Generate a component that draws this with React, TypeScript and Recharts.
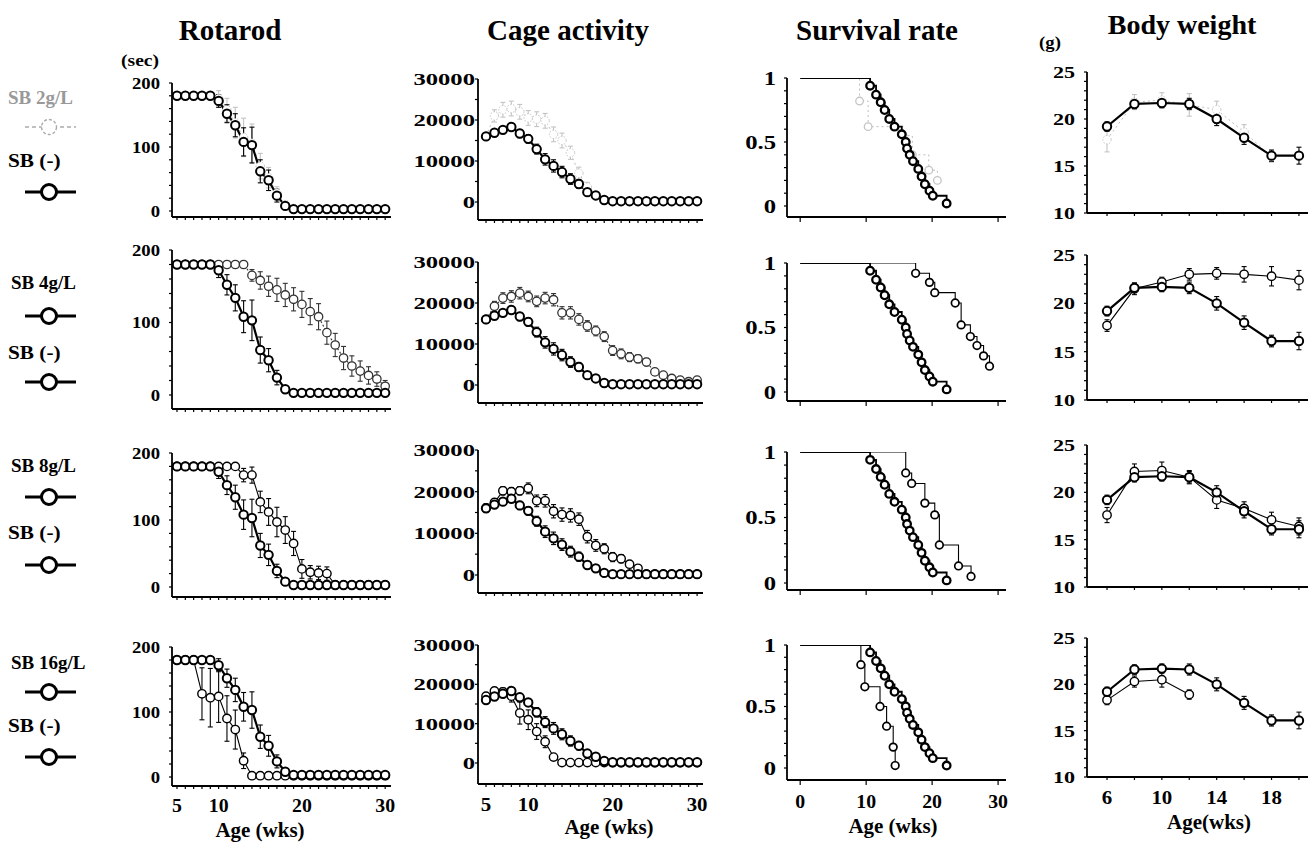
import React from 'react';
import { LineChart, Line, XAxis, YAxis, ErrorBar } from 'recharts';

// ---------------- data ----------------
const weeks = [5, 6, 7, 8, 9, 10, 11, 12, 13, 14, 15, 16, 17, 18, 19, 20, 21, 22, 23, 24, 25, 26, 27, 28, 29, 30];

// Rotarod (sec)
const rotarodCtrl = [180, 180, 180, 180, 180, 172, 152, 134, 108, 103, 62, 48, 24, 8, 3, 3, 3, 3, 3, 3, 3, 3, 3, 3, 3, 3];
const rotarodCtrlErr = [0, 0, 0, 0, 0, 10, 14, 18, 22, 28, 18, 16, 10, 5, 0, 0, 0, 0, 0, 0, 0, 0, 0, 0, 0, 0];
const rotarodSB2 = [180, 180, 180, 180, 180, 176, 158, 138, 115, 106, 70, 52, 28, 10, 4, 3, 3, 3, 3, 3, 3, 3, 3, 3, 3, 3];
const rotarodSB2Err = [0, 0, 0, 0, 0, 12, 18, 24, 30, 30, 20, 16, 10, 5, 0, 0, 0, 0, 0, 0, 0, 0, 0, 0, 0, 0];
const rotarodSB4 = [180, 180, 180, 180, 180, 180, 180, 180, 180, 165, 158, 150, 145, 138, 132, 125, 115, 108, 86, 69, 51, 40, 33, 27, 22, 12];
const rotarodSB4Err = [0, 0, 0, 0, 0, 0, 0, 0, 0, 8, 12, 14, 16, 16, 16, 18, 18, 18, 16, 16, 16, 14, 14, 12, 10, 8];
const rotarodSB8 = [180, 180, 180, 180, 180, 180, 180, 180, 167, 167, 127, 112, 97, 85, 65, 27, 22, 21, 20, 3, 3, 3, 3, 3, 3, 3];
const rotarodSB8Err = [0, 0, 0, 0, 0, 0, 0, 0, 10, 12, 16, 20, 22, 20, 18, 14, 10, 10, 10, 0, 0, 0, 0, 0, 0, 0];
const rotarodSB16 = [180, 180, 180, 128, 122, 124, 90, 73, 25, 2, 2, 2, 2, 2, 2, 2, 2, 2, 2, 2, 2, 2, 2, 2, 2, 2];
const rotarodSB16Err = [0, 0, 0, 40, 45, 40, 35, 30, 12, 0, 0, 0, 0, 0, 0, 0, 0, 0, 0, 0, 0, 0, 0, 0, 0, 0];

// Cage activity (counts)
const cageCtrl = [16000, 16900, 17600, 18300, 16700, 15400, 12900, 10400, 8800, 7300, 5600, 4400, 2400, 1600, 500, 200, 200, 200, 200, 200, 200, 200, 200, 200, 200, 200];
const cageCtrlErr = [400, 600, 700, 900, 1000, 1000, 1200, 1400, 1500, 1400, 1300, 1100, 900, 600, 300, 0, 0, 0, 0, 0, 0, 0, 0, 0, 0, 0];
const cageSB2 = [16000, 21000, 22500, 22800, 22000, 20500, 20200, 19800, 16500, 15000, 12000, 7000, 3600, 1500, 500, 200, 200, 200, 200, 200, 200, 200, 200, 200, 200, 200];
const cageSB2Err = [800, 1500, 1800, 1800, 1800, 1800, 1800, 1800, 1800, 1800, 1600, 1500, 1200, 800, 400, 0, 0, 0, 0, 0, 0, 0, 0, 0, 0, 0];
const cageSB4 = [16000, 19200, 21200, 21600, 22400, 21600, 20400, 21200, 20800, 17600, 17600, 16000, 14400, 13200, 11800, 8400, 7600, 6800, 6400, 5600, 3200, 2400, 1600, 1200, 800, 1200];
const cageSB4Err = [600, 1200, 1300, 1400, 1400, 1300, 1300, 1400, 1500, 1500, 1500, 1400, 1300, 1200, 1200, 1200, 1200, 1100, 1000, 900, 800, 600, 500, 400, 300, 300];
const cageSB8 = [16100, 17400, 20200, 20000, 20200, 20800, 17800, 17800, 15300, 14500, 14300, 13400, 9200, 7100, 6300, 4300, 3900, 2600, 1600, 200, 200, 200, 200, 200, 200, 200];
const cageSB8Err = [1000, 900, 1000, 1000, 1000, 1300, 1400, 1500, 1600, 1600, 1600, 1500, 1500, 1400, 1200, 1100, 1000, 800, 600, 300, 0, 0, 0, 0, 0, 0];
const cageSB16 = [17000, 18300, 18100, 17000, 12700, 11000, 8000, 5400, 1500, 100, 100, 100, 100, 100, 100, 100, 100, 100, 100, 100, 100, 100, 100, 100, 100, 100];
const cageSB16Err = [800, 900, 1000, 1500, 2800, 2500, 2000, 1500, 800, 0, 0, 0, 0, 0, 0, 0, 0, 0, 0, 0, 0, 0, 0, 0, 0, 0];

// Survival rate (Kaplan-Meier steps: week, fraction alive)
const survCtrlT = [0, 10.6, 11.5, 12.2, 12.8, 13.5, 14.3, 15.4, 16.0, 16.2, 16.6, 17.1, 17.9, 18.4, 18.9, 19.6, 20.1, 22.2];
const survCtrlS = [1, 0.94, 0.87, 0.81, 0.75, 0.68, 0.62, 0.56, 0.5, 0.45, 0.4, 0.35, 0.29, 0.23, 0.17, 0.12, 0.08, 0.02];
const survSB2T = [0, 9.0, 10.3, 15.6, 17.0, 19.5, 20.8];
const survSB2S = [1, 0.82, 0.62, 0.55, 0.4, 0.28, 0.2];
const survSB4T = [0, 17.5, 19.6, 20.4, 23.5, 24.4, 25.8, 26.8, 27.8, 28.7];
const survSB4S = [1, 0.92, 0.85, 0.77, 0.69, 0.52, 0.43, 0.36, 0.28, 0.2];
const survSB8T = [0, 16.0, 16.9, 18.9, 20.4, 21.1, 24.0, 25.9];
const survSB8S = [1, 0.84, 0.76, 0.61, 0.52, 0.29, 0.13, 0.05];
const survSB16T = [0, 9.2, 9.8, 12.1, 13.1, 14.1, 14.4];
const survSB16S = [1, 0.84, 0.66, 0.5, 0.34, 0.17, 0.02];

// Body weight (g)
const bwWeeks = [6, 8, 10, 12, 14, 16, 18, 20];
const bwCtrl = [19.2, 21.6, 21.7, 21.6, 20.0, 18.0, 16.1, 16.1];
const bwCtrlErr = [0.5, 0.5, 0.5, 0.6, 0.7, 0.7, 0.6, 0.9];
const bwSB2 = [17.8, 21.8, 22.0, 21.5, 21.0, 18.6, 16.0];
const bwSB2Err = [1.3, 0.8, 0.8, 1.2, 0.9, 0.8, 0.6];
const bwSB4 = [17.7, 21.5, 22.2, 23.0, 23.1, 23.0, 22.8, 22.4];
const bwSB4Err = [0.6, 0.6, 0.5, 0.6, 0.6, 0.8, 1.0, 1.0];
const bwSB8 = [17.6, 22.2, 22.3, 21.6, 19.2, 18.3, 17.1, 16.4];
const bwSB8Err = [0.8, 0.8, 0.9, 0.7, 0.9, 0.7, 0.8, 0.9];
const bwSB16 = [18.3, 20.3, 20.5, 18.9];
const bwSB16Err = [0.5, 0.6, 0.8, 0.5];

// tick labels
const rotarodTicks = [0, 20, 40, 60, 80, 100, 120, 140, 160, 180, 200];
const rotarodMajor = [0, 100, 200];
const cageTicks = [0, 5000, 10000, 15000, 20000, 25000, 30000];
const cageMajor = [0, 10000, 20000, 30000];
const survTicks = [0, 0.1, 0.2, 0.3, 0.4, 0.5, 0.6, 0.7, 0.8, 0.9, 1];
const survMajor = [0, 0.5, 1];
const bwTicks = [10, 11, 12, 13, 14, 15, 16, 17, 18, 19, 20, 21, 22, 23, 24, 25];
const bwMajor = [10, 15, 20, 25];
const ageMajor = [5, 10, 20, 30];
const survXTicks = [0, 10, 20, 30];
const bwXTicks = [6, 8, 10, 12, 14, 16, 18, 20];
const bwXMajor = [6, 10, 14, 18];

const groupLabels = ['SB 2g/L', 'SB 4g/L', 'SB 8g/L', 'SB 16g/L'];
const titles = ['Rotarod', 'Cage activity', 'Survival rate', 'Body weight'];

// ---------------- layout ----------------
const FONT = '"Liberation Serif", "Times New Roman", Times, serif';
const YW = 70;
const PT = 14;
const PR = 16;

type Pt = { x: number; y: number; e?: number };
type Look = 'ctrl' | 'faint' | 'dotted' | 'thin';

const pts = (xs: number[], ys: number[], es?: number[]): Pt[] =>
  ys.map((y, i) => ({ x: xs[i], y, e: es ? es[i] : 0 }));

const COLS: Record<string, any> = {
  rot: {
    axisX: 172, right: 391, xDomain: [4.4, 30.7], xTicks: weeks, xMajor: ageMajor, xSize: 3,
    yTicks: rotarodTicks, yMajor: rotarodMajor, yTop: 200, yBot: 0, yFs: 17, ySx: 1.1, yGap: 9, xFs: 18,
    pos: [[83, 211, 217], [250, 395, 409], [453, 587, 597], [647, 777, 786]],
  },
  cage: {
    axisX: 478, right: 703, xDomain: [4.05, 30.7], xTicks: weeks, xMajor: ageMajor, xSize: 3,
    yTicks: cageTicks, yMajor: cageMajor, yTop: 30000, yBot: 0, yFs: 17, ySx: 1.45, yGap: 0, xFs: 19,
    pos: [[79, 202, 220], [262, 385, 403], [450, 575, 593], [645, 763, 784]],
  },
  surv: {
    axisX: 787, right: 1006, xDomain: [-2, 31.2], xTicks: survXTicks, xMajor: survXTicks, xSize: 5,
    yTicks: survTicks, yMajor: survMajor, yTop: 1, yBot: 0, yFs: 19, ySx: 1.3, yGap: 8, xFs: 18,
    pos: [[78, 206, 217], [263, 392, 401], [452, 583, 590], [645, 768, 780]],
  },
  bw: {
    axisX: 1087, right: 1308, xDomain: [4.54, 20.66], xTicks: bwXTicks, xMajor: bwXMajor, xSize: 3,
    yTicks: bwTicks, yMajor: bwMajor, yTop: 25, yBot: 10, yFs: 17, ySx: 1.3, yGap: 9, xFs: 19,
    pos: [[72, 213, 213], [255, 400, 400], [445, 587, 587], [638, 777, 777]],
  },
};

const lookStyle = (look: Look) => {
  if (look === 'ctrl') return { stroke: '#000', width: 2.2, dash: undefined, dot: '#000', dotW: 2 };
  if (look === 'faint') return { stroke: '#bdbdbd', width: 1, dash: '2 3', dot: '#c4c4c4', dotW: 1 };
  if (look === 'dotted') return { stroke: '#333', width: 1.1, dash: '2 2', dot: '#333', dotW: 1.3 };
  return { stroke: '#000', width: 1.1, dash: undefined, dot: '#000', dotW: 1.4 };
};

type Series = { data: Pt[]; look: Look; step?: boolean };

function Panel({ c, row, series }: { c: any; row: number; series: Series[] }) {
  const [pTop, pBot, pAxis] = c.pos[row];
  const last = row === 3;
  const dMin = c.yBot - ((pAxis - pBot) * (c.yTop - c.yBot)) / (pBot - pTop);
  const XH = last ? 34 : 8;
  const width = YW + (c.right - c.axisX) + PR;
  const height = PT + (pAxis - pTop) + XH;

  const yTick = (p: any) =>
    c.yMajor.includes(p.payload.value) ? (
      <text
        transform={`translate(${p.x},${p.y}) scale(${c.ySx},1)`}
        textAnchor="end"
        dy="0.35em"
        fontFamily={FONT}
        fontWeight="bold"
        fontSize={c.yFs}
        fill="#000"
      >
        {String(p.payload.value)}
      </text>
    ) : (
      <g />
    );

  const xTick = (p: any) =>
    last && c.xMajor.includes(p.payload.value) ? (
      <text
        transform={`translate(${p.x},${p.y}) scale(1.1,1)`}
        textAnchor="middle"
        dy="0.72em"
        fontFamily={FONT}
        fontWeight="bold"
        fontSize={c.xFs}
        fill="#000"
      >
        {String(p.payload.value)}
      </text>
    ) : (
      <g />
    );

  return (
    <div style={{ position: 'absolute', left: c.axisX - YW, top: pTop - PT }}>
      <LineChart width={width} height={height} margin={{ top: PT, right: PR, left: 0, bottom: 0 }}>
        <XAxis
          type="number"
          dataKey="x"
          domain={c.xDomain}
          ticks={c.xTicks}
          interval={0}
          allowDataOverflow
          height={XH}
          axisLine={{ stroke: '#000', strokeWidth: 1.8 }}
          tickLine={{ stroke: '#000', strokeWidth: 1.2 }}
          tickSize={c.xSize}
          tickMargin={10}
          tick={xTick}
        />
        <YAxis
          type="number"
          domain={[dMin, c.yTop]}
          ticks={c.yTicks}
          interval={0}
          allowDataOverflow
          width={YW}
          axisLine={{ stroke: '#000', strokeWidth: 1.8 }}
          tickLine={{ stroke: '#000', strokeWidth: 1.2 }}
          tickSize={3}
          tickMargin={c.yGap}
          tick={yTick}
        />
        {series.map((s, i) => {
          const st = lookStyle(s.look);
          const dot = s.step
            ? (p: any) =>
                p.index === 0 ? (
                  <g key={`d${i}-${p.index}`} />
                ) : (
                  <circle key={`d${i}-${p.index}`} cx={p.cx} cy={p.cy} r={3.8} fill="#fff" stroke={st.dot} strokeWidth={st.dotW + 0.3} />
                )
            : { r: 4.2, fill: '#fff', stroke: st.dot, strokeWidth: st.dotW, strokeDasharray: s.look === 'faint' ? '1.5 1.5' : 'none' };
          return (
            <Line
              key={i}
              data={s.data}
              dataKey="y"
              type={s.step ? 'stepAfter' : 'linear'}
              stroke={st.stroke}
              strokeWidth={s.step && s.look === 'ctrl' ? 1.8 : st.width}
              strokeDasharray={st.dash}
              dot={dot}
              activeDot={false}
              isAnimationActive={false}
            >
              {!s.step && <ErrorBar dataKey="e" width={2.5} stroke={st.dot} strokeWidth={1.1} direction="y" />}
            </Line>
          );
        })}
      </LineChart>
    </div>
  );
}

function Txt({ x, y, size, sx = 1, color = '#000', left = false, children }: any) {
  return (
    <div
      style={{
        position: 'absolute',
        left: x,
        top: y,
        transform: `translate(${left ? '0' : '-50%'}, -50%) scaleX(${sx})`,
        transformOrigin: left ? 'left center' : 'center',
        font: `bold ${size}px ${FONT}`,
        color,
        whiteSpace: 'nowrap',
        lineHeight: 1,
      }}
    >
      {children}
    </div>
  );
}

function LegendIcon({ y, faint }: { y: number; faint?: boolean }) {
  const col = faint ? '#aaa' : '#000';
  return (
    <svg style={{ position: 'absolute', left: 22, top: y - 12 }} width={60} height={24}>
      <line x1={3} y1={12} x2={54} y2={12} stroke={col} strokeWidth={faint ? 1.4 : 3} strokeDasharray={faint ? '4 3' : undefined} />
      <circle cx={27} cy={12} r={7.5} fill="#fff" stroke={col} strokeWidth={faint ? 1.4 : 3} strokeDasharray={faint ? '3 2' : undefined} />
    </svg>
  );
}

const legendY = [
  [97, 127, 160, 192],
  [282, 316, 352, 382],
  [465, 497, 532, 565],
  [662, 692, 725, 757],
];

export default function App() {
  const trtRot = [rotarodSB2, rotarodSB4, rotarodSB8, rotarodSB16];
  const trtRotErr = [rotarodSB2Err, rotarodSB4Err, rotarodSB8Err, rotarodSB16Err];
  const trtCage = [cageSB2, cageSB4, cageSB8, cageSB16];
  const trtCageErr = [cageSB2Err, cageSB4Err, cageSB8Err, cageSB16Err];
  const trtSurv = [[survSB2T, survSB2S], [survSB4T, survSB4S], [survSB8T, survSB8S], [survSB16T, survSB16S]];
  const trtBw = [bwSB2, bwSB4, bwSB8, bwSB16];
  const trtBwErr = [bwSB2Err, bwSB4Err, bwSB8Err, bwSB16Err];
  const seriesLook: Look[] = ['faint', 'dotted', 'thin', 'thin'];
  const solidLook: Look[] = ['faint', 'thin', 'thin', 'thin'];

  return (
    <div style={{ position: 'absolute', left: 0, top: 0, width: 1314, height: 843, background: '#fff', overflow: 'hidden' }}>
      <Txt x={230} y={30} size={29}>{titles[0]}</Txt>
      <Txt x={568} y={30} size={29}>{titles[1]}</Txt>
      <Txt x={877} y={30} size={29}>{titles[2]}</Txt>
      <Txt x={1182} y={25} size={28}>{titles[3]}</Txt>
      <Txt x={140} y={60} size={17} sx={1.15}>(sec)</Txt>
      <Txt x={1050} y={42} size={17} sx={1.1}>(g)</Txt>

      {legendY.map((ly, r) => (
        <React.Fragment key={r}>
          <Txt x={r === 0 ? 8 : 11} y={ly[0]} size={19} sx={1.0} left color={r === 0 ? '#999' : '#000'}>
            {groupLabels[r]}
          </Txt>
          <LegendIcon y={ly[1]} faint={r === 0} />
          <Txt x={8} y={ly[2]} size={19} sx={1.12} left>
            SB (-)
          </Txt>
          <LegendIcon y={ly[3]} />
        </React.Fragment>
      ))}

      {[0, 1, 2, 3].map((r) => (
        <React.Fragment key={r}>
          <Panel
            c={COLS.rot}
            row={r}
            series={[
              { data: pts(weeks, trtRot[r], trtRotErr[r]), look: seriesLook[r] },
              { data: pts(weeks, rotarodCtrl, rotarodCtrlErr), look: 'ctrl' },
            ]}
          />
          <Panel
            c={COLS.cage}
            row={r}
            series={[
              { data: pts(weeks, trtCage[r], trtCageErr[r]), look: seriesLook[r] },
              { data: pts(weeks, cageCtrl, cageCtrlErr), look: 'ctrl' },
            ]}
          />
          <Panel
            c={COLS.surv}
            row={r}
            series={[
              { data: pts(trtSurv[r][0], trtSurv[r][1]), look: solidLook[r], step: true },
              { data: pts(survCtrlT, survCtrlS), look: 'ctrl', step: true },
            ]}
          />
          <Panel
            c={COLS.bw}
            row={r}
            series={[
              { data: pts(bwWeeks, trtBw[r], trtBwErr[r]), look: solidLook[r] },
              { data: pts(bwWeeks, bwCtrl, bwCtrlErr), look: 'ctrl' },
            ]}
          />
        </React.Fragment>
      ))}

      <Txt x={260} y={830} size={21}>Age (wks)</Txt>
      <Txt x={609} y={827} size={21}>Age (wks)</Txt>
      <Txt x={893} y={826} size={21}>Age (wks)</Txt>
      <Txt x={1209} y={822} size={21}>Age(wks)</Txt>
    </div>
  );
}
